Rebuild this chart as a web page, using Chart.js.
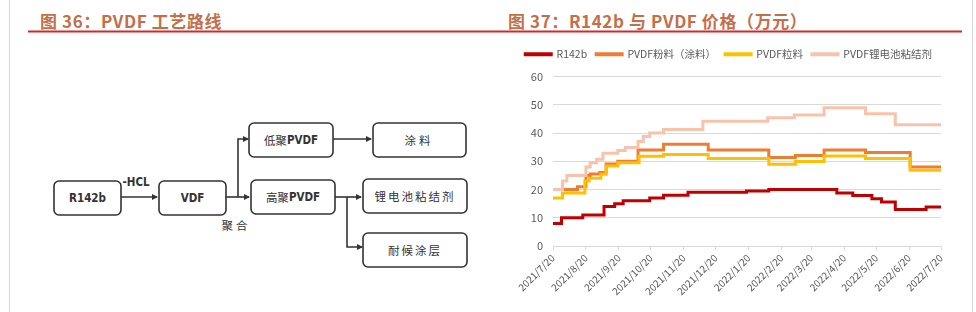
<!DOCTYPE html>
<html>
<head>
<meta charset="utf-8">
<script src="https://cdn.jsdelivr.net/npm/chart.js@4.4.1/dist/chart.umd.min.js"></script>
<style>
  html, body { margin: 0; padding: 0; background: #fff; }
  #page { position: relative; width: 976px; height: 312px; overflow: hidden; font-family: "Noto Sans CJK SC", sans-serif; }
  .title { position: absolute; top: 8px; font-size: 17px; letter-spacing: 0.6px; font-weight: bold; color: #C46F48; white-space: nowrap; }
  #chartBox { position: absolute; left: 495px; top: 38px; width: 472px; height: 274px; }
</style>
</head>
<body>
<div id="page">
  <svg width="976" height="312" style="position:absolute;left:0;top:0">
    <defs>
      <marker id="arr" markerWidth="6" markerHeight="6" refX="5" refY="3" orient="auto" markerUnits="userSpaceOnUse">
        <path d="M0,0 L6,3 L0,6 z" fill="#333"/>
      </marker>
    </defs>
    <line x1="9.5" y1="0" x2="9.5" y2="312" stroke="#d6d6d6" stroke-width="1"/>
    <line x1="972.5" y1="0" x2="972.5" y2="312" stroke="#d6d6d6" stroke-width="1"/>
    <line x1="28" y1="31.5" x2="962" y2="31.5" stroke="#D7262B" stroke-width="2"/>

    <g fill="none" stroke="#333" stroke-width="1.6">
      <rect x="54" y="181" width="67" height="34" rx="5"/>
      <rect x="159" y="181" width="67" height="34" rx="5"/>
      <rect x="249" y="123" width="84" height="34" rx="5"/>
      <rect x="373" y="123" width="93" height="34" rx="5"/>
      <rect x="251" y="180" width="84" height="34" rx="5"/>
      <rect x="363" y="179" width="104" height="34" rx="5"/>
      <rect x="363" y="233" width="104" height="34" rx="5"/>
      <path d="M121,197 H157" marker-end="url(#arr)"/>
      <path d="M226,197 H249" marker-end="url(#arr)"/>
      <path d="M238,197 V139 H248" marker-end="url(#arr)"/>
      <path d="M333,139 H371" marker-end="url(#arr)"/>
      <path d="M335,197 H361" marker-end="url(#arr)"/>
      <path d="M347,197 V247 H362" marker-end="url(#arr)"/>
    </g>
    <g fill="#333" font-size="11.5" text-anchor="middle" dominant-baseline="central">
      <text x="87.5" y="198" font-family="DejaVu Sans Condensed, DejaVu Sans" font-weight="bold" font-stretch="condensed">R142b</text>
      <text x="192.5" y="198" font-family="DejaVu Sans Condensed, DejaVu Sans" font-weight="bold" font-stretch="condensed">VDF</text>
      <text x="136" y="182" font-family="DejaVu Sans Condensed, DejaVu Sans" font-weight="bold" font-stretch="condensed">-HCL</text>
      <text x="291" y="140" font-family="Noto Sans CJK SC">低聚<tspan font-family="DejaVu Sans Condensed, DejaVu Sans" font-weight="bold">PVDF</tspan></text>
      <text x="293" y="197" font-family="Noto Sans CJK SC">高聚<tspan font-family="DejaVu Sans Condensed, DejaVu Sans" font-weight="bold">PVDF</tspan></text>
      <text x="419" y="140" font-family="Noto Sans CJK SC" letter-spacing="3">涂料</text>
      <text x="415" y="196" font-family="Noto Sans CJK SC" letter-spacing="2">锂电池粘结剂</text>
      <text x="415" y="250" font-family="Noto Sans CJK SC" letter-spacing="2">耐候涂层</text>
      <text x="236" y="225" font-family="Noto Sans CJK SC" letter-spacing="3">聚合</text>
    </g>
  </svg>
  <div class="title" style="left:40px">图 36：PVDF 工艺路线</div>
  <div class="title" style="left:508px">图 37：R142b 与 PVDF 价格（万元）</div>
  <div id="chartBox"><canvas id="priceChart"></canvas></div>
</div>
<script>
// tick labels on the date axis
const tickLabels = ['2021/7/20','2021/8/20','2021/9/20','2021/10/20','2021/11/20','2021/12/20',
  '2022/1/20','2022/2/20','2022/3/20','2022/4/20','2022/5/20','2022/6/20','2022/7/20'];

// price change points (date, value in 万元)
const r142bDates = ['2021/7/20','2021/7/28','2021/8/17','2021/9/6','2021/9/16','2021/9/24','2021/10/19',
  '2021/11/1','2021/11/24','2022/1/18','2022/2/8','2022/4/13','2022/4/28','2022/5/16','2022/5/25',
  '2022/6/7','2022/7/6','2022/7/20'];
const r142bVals = [8,10,11,14,15,16,17,18,19,19.5,20,18.8,17.9,16.7,15.6,12.9,13.8,13.8];

const coatDates = ['2021/7/20','2021/8/12','2021/8/20','2021/8/24','2021/9/2','2021/9/8','2021/9/19',
  '2021/10/8','2021/11/1','2021/12/13','2022/2/8','2022/3/5','2022/4/1','2022/5/10','2022/6/21','2022/7/20'];
const coatVals = [20,21,25,25.5,26,29,30,34,36,34,31.3,32,34,33.1,28,28];

const granDates = ['2021/7/20','2021/7/29','2021/8/19','2021/8/23','2021/9/3','2021/9/8','2021/9/19',
  '2021/10/9','2021/11/1','2021/12/13','2022/2/8','2022/3/5','2022/4/1','2022/5/10','2022/6/21','2022/7/20'];
const granVals = [17,18.8,23,24,25.4,28.3,29.5,31.8,32.4,31,28.9,29.9,31.9,31,26.8,26.8];

const binderDates = ['2021/7/20','2021/7/29','2021/8/2','2021/8/20','2021/8/24','2021/8/30','2021/9/5',
  '2021/9/19','2021/9/26','2021/10/8','2021/10/13','2021/10/19','2021/11/1','2021/12/8','2022/2/7',
  '2022/3/4','2022/4/1','2022/5/10','2022/6/7','2022/7/20'];
const binderVals = [20,23,25,28,29.5,30.7,32.8,33.8,34.9,37,38.8,40,41.2,44.2,45.4,46.4,48.9,46.8,42.9,42.9];

const start = Date.UTC(2021, 6, 20);
function dayOf(s) {
  const [y, m, d] = s.split('/').map(Number);
  return Math.round((Date.UTC(y, m - 1, d) - start) / 864e5);
}
function pts(dates, vals) {
  return dates.map((d, i) => ({ x: dayOf(d), y: vals[i] }));
}
const tickPos = tickLabels.map(dayOf);

const grey = '#595959';
const font = { family: '"Noto Sans CJK SC", sans-serif', size: 11 };

function series(label, dates, vals, color, order) {
  return {
    label: label,
    data: pts(dates, vals),
    borderColor: color,
    backgroundColor: color,
    borderWidth: 3,
    stepped: 'before',
    pointRadius: 0,
    fill: false,
    order: order
  };
}

// a bit more room under the legend
const legendGap = {
  id: 'legendGap',
  beforeInit(chart) {
    const fit = chart.legend.fit;
    chart.legend.fit = function () { fit.call(this); this.height += 7; };
  }
};

const price_chart = new Chart(document.getElementById('priceChart'), {
  type: 'line',
  data: {
    datasets: [
      series('R142b', r142bDates, r142bVals, '#C00000', 3),
      series('PVDF粉料（涂料）', coatDates, coatVals, '#ED7D31', 2),
      series('PVDF粒料', granDates, granVals, '#FFC000', 1),
      series('PVDF锂电池粘结剂', binderDates, binderVals, '#F8C3AC', 0)
    ]
  },
  plugins: [legendGap],
  options: {
    responsive: true,
    maintainAspectRatio: false,
    animation: false,
    layout: { padding: { top: 2, right: 26, left: 0, bottom: 0 } },
    plugins: {
      legend: {
        position: 'top',
        align: 'end',
        labels: {
          boxWidth: 26, boxHeight: 1, padding: 9, color: grey,
          font: { family: font.family, size: 10.5 },
          sort: (a, b) => a.datasetIndex - b.datasetIndex
        }
      },
      tooltip: { enabled: false }
    },
    scales: {
      x: {
        type: 'linear',
        min: 0,
        max: tickPos[tickPos.length - 1],
        afterBuildTicks: s => { s.ticks = tickPos.map(v => ({ value: v })); },
        afterFit: s => { s.height = 66; },
        grid: { drawOnChartArea: false, drawTicks: true, tickLength: 4, color: '#d9d9d9' },
        border: { color: '#d9d9d9' },
        ticks: {
          autoSkip: false, maxRotation: 45, minRotation: 45, padding: 2,
          color: grey, font: { family: font.family, size: 10 },
          callback: v => tickLabels[tickPos.indexOf(v)]
        }
      },
      y: {
        min: 0, max: 60,
        afterFit: s => { s.width = 58; },
        grid: { color: '#d9d9d9', drawTicks: false },
        border: { display: false },
        ticks: { stepSize: 10, padding: 10, color: grey, font: font }
      }
    }
  }
});
</script>
</body>
</html>
